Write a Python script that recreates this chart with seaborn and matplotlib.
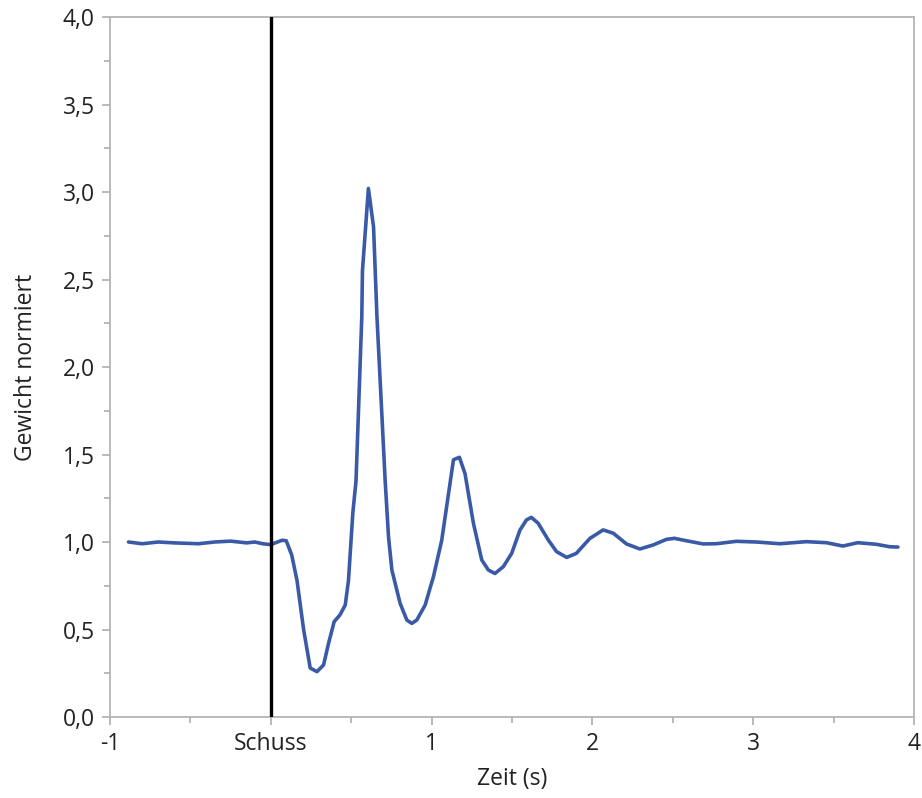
import numpy as np
import pandas as pd
import matplotlib
matplotlib.use("Agg")
import matplotlib.pyplot as plt
from matplotlib.ticker import MultipleLocator, FixedLocator, FixedFormatter
import seaborn as sns

zeit = [-0.885, -0.8, -0.7, -0.6, -0.45, -0.35, -0.25, -0.15, -0.1, -0.05, 0.0,
        0.07, 0.096, 0.13, 0.163, 0.204, 0.245, 0.287, 0.328, 0.359, 0.394, 0.43,
        0.463, 0.483, 0.51, 0.53, 0.566, 0.57, 0.607, 0.639, 0.66, 0.711, 0.732,
        0.753, 0.804, 0.846, 0.877, 0.908, 0.96, 0.99, 1.011, 1.063, 1.136, 1.173,
        1.208, 1.26, 1.312, 1.353, 1.394, 1.446, 1.498, 1.55, 1.59, 1.62, 1.663,
        1.726, 1.777, 1.84, 1.90, 1.985, 2.067, 2.13, 2.212, 2.295, 2.378, 2.46,
        2.51, 2.585, 2.688, 2.77, 2.896, 3.02, 3.165, 3.33, 3.455, 3.558, 3.65,
        3.765, 3.848, 3.9]
gewicht = [1.0, 0.99, 1.0, 0.995, 0.99, 1.0, 1.005, 0.995, 1.0, 0.99, 0.985,
           1.01, 1.007, 0.926, 0.78, 0.50, 0.28, 0.259, 0.297, 0.42, 0.545, 0.583,
           0.64, 0.78, 1.165, 1.35, 2.29, 2.55, 3.02, 2.80, 2.29, 1.354, 1.03,
           0.84, 0.65, 0.554, 0.535, 0.554, 0.64, 0.735, 0.80, 1.01, 1.47, 1.484,
           1.39, 1.107, 0.897, 0.84, 0.82, 0.859, 0.935, 1.069, 1.126, 1.141, 1.107,
           1.011, 0.945, 0.912, 0.935, 1.021, 1.069, 1.05, 0.989, 0.96, 0.983, 1.015,
           1.021, 1.007, 0.989, 0.99, 1.004, 1.0, 0.99, 1.002, 0.996, 0.977, 0.996,
           0.987, 0.973, 0.971]

x_ticks = [-1, 0, 1, 2, 3, 4]
x_labels = ["-1", "Schuss", "1", "2", "3", "4"]
y_ticks = [0.0, 0.5, 1.0, 1.5, 2.0, 2.5, 3.0, 3.5, 4.0]
y_labels = ["0,0", "0,5", "1,0", "1,5", "2,0", "2,5", "3,0", "3,5", "4,0"]

sns.set_style("white")
plt.rcParams['font.family'] = ['Open Sans', 'DejaVu Sans']

df = pd.DataFrame({"Zeit": zeit, "Gewicht": gewicht})

fig = plt.figure(figsize=(9.22, 7.98), dpi=100)
ax = fig.add_axes([110/922, 1 - 717/798, (914 - 110)/922, (717 - 17)/798])

sns.lineplot(data=df, x="Zeit", y="Gewicht", ax=ax, color="#3a5aa8", linewidth=2.6)
ax.axvline(0, color="black", linewidth=2.4, zorder=3)

ax.set_xlim(-1, 4)
ax.set_ylim(0, 4)
ax.xaxis.set_major_locator(FixedLocator(x_ticks))
ax.xaxis.set_major_formatter(FixedFormatter(x_labels))
ax.yaxis.set_major_locator(FixedLocator(y_ticks))
ax.yaxis.set_major_formatter(FixedFormatter(y_labels))
ax.xaxis.set_minor_locator(MultipleLocator(0.5))
ax.yaxis.set_minor_locator(MultipleLocator(0.25))

gray = "#b4b4b4"
for s in ax.spines.values():
    s.set_color(gray)
    s.set_linewidth(1.3)
    s.set_visible(True)
ax.tick_params(axis="both", which="major", direction="out", length=6, width=1.3,
               color=gray, labelsize=16.5, labelcolor="#222222", pad=5,
               bottom=True, left=True)
ax.tick_params(axis="both", which="minor", direction="out", length=4, width=1.3,
               color=gray, bottom=True, left=True)

ax.set_xlabel("Zeit (s)", fontsize=16.5, color="#222222", labelpad=8)
ax.set_ylabel("Gewicht normiert", fontsize=16.5, color="#222222", labelpad=18)
ax.grid(False)

fig.savefig("out.png", dpi=100)
